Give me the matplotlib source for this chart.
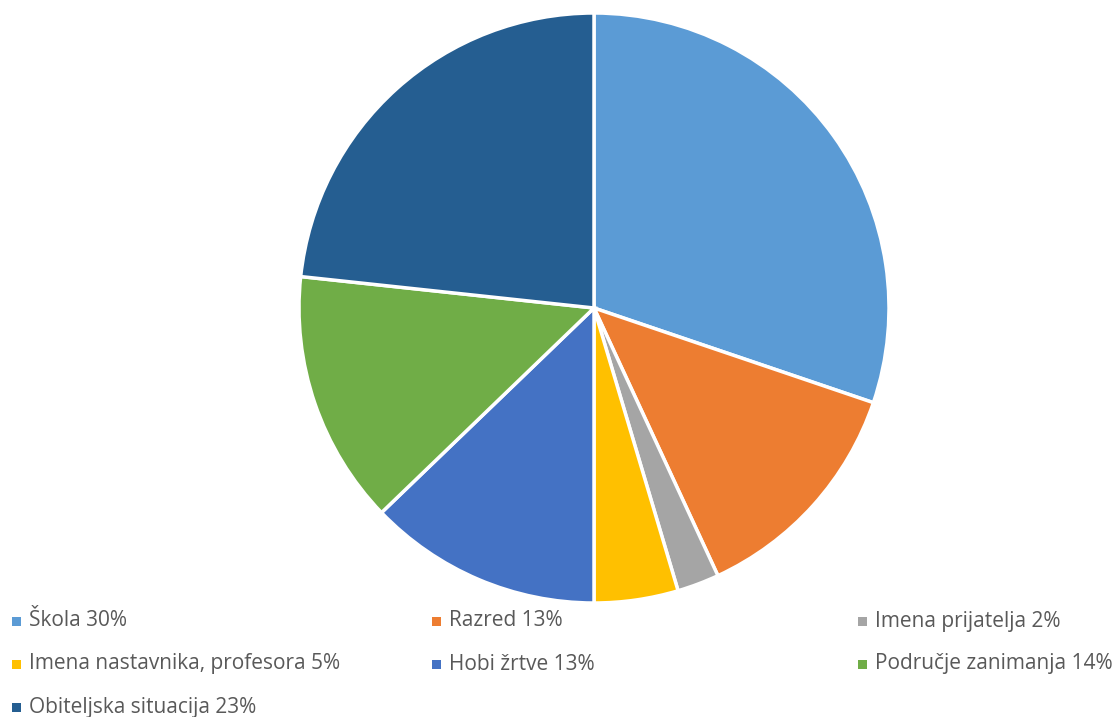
import matplotlib
matplotlib.use("Agg")
import matplotlib.pyplot as plt
from matplotlib.patches import Rectangle

labels = ["Škola 30%", "Razred 13%", "Imena prijatelja 2%",
          "Imena nastavnika, profesora 5%", "Hobi žrtve 13%",
          "Područje zanimanja 14%", "Obiteljska situacija 23%"]
values = [30.2, 12.9, 2.3, 4.6, 12.8, 13.9, 23.3]
colors = ["#5B9BD5", "#ED7D31", "#A5A5A5", "#FFC000", "#4472C4", "#70AD47", "#255E91"]

W, H = 1112, 717
fig = plt.figure(figsize=(W / 100, H / 100), dpi=100)
ax = fig.add_axes([0, 0, 1, 1])
ax.pie(values, colors=colors, startangle=90, counterclock=False,
       center=(594, H - 308), radius=295,
       wedgeprops=dict(edgecolor="white", linewidth=2.5))
ax.set_xlim(0, W)
ax.set_ylim(0, H)
ax.set_aspect("equal")
ax.axis("off")

col_x = [12, 432, 858]
row_y = [621, 664, 707]
for i, (lab, c) in enumerate(zip(labels, colors)):
    r, k = divmod(i, 3)
    x, y = col_x[k], row_y[r]
    ax.add_patch(Rectangle((x, H - y - 4.5), 9, 9, facecolor=c, edgecolor="none"))
    ax.text(x + 17, H - y, lab, fontsize=15, color="#595959",
            family="Open Sans", va="center", ha="left")

fig.savefig("out.png", dpi=100)
